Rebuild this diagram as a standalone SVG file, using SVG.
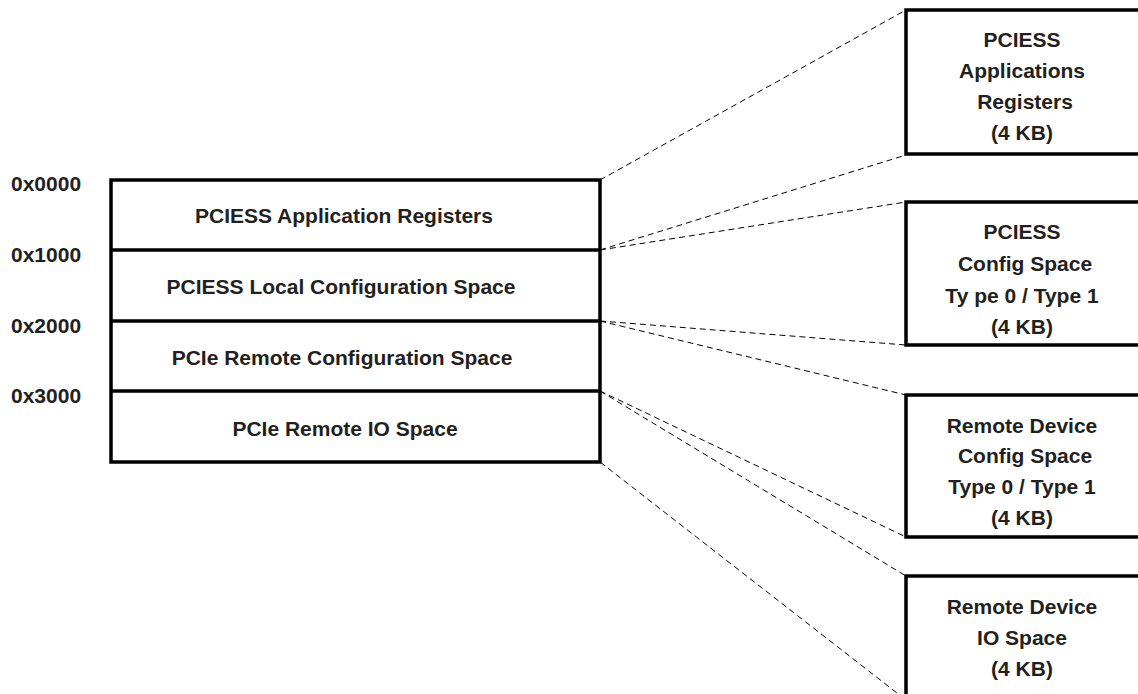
<svg xmlns="http://www.w3.org/2000/svg" width="1138" height="694" viewBox="0 0 1138 694">
<style>
.t{font-family:"Liberation Sans",Arial,sans-serif;font-weight:bold;font-size:21px;fill:#231f20}
.m{text-anchor:middle}
.box{fill:#fff;stroke:#000;stroke-width:3.5}
.div{stroke:#000;stroke-width:3.5}
.dash{stroke:#000;stroke-width:1;stroke-dasharray:6,4;fill:none}
</style>
<rect width="1138" height="694" fill="#fff"/>
<g id="connectors">
<line class="dash" x1="600" y1="180" x2="906" y2="10"/>
<line class="dash" x1="600" y1="250" x2="906" y2="155"/>
<line class="dash" x1="600" y1="250" x2="906" y2="202"/>
<line class="dash" x1="600" y1="321" x2="906" y2="345"/>
<line class="dash" x1="600" y1="321" x2="906" y2="395"/>
<line class="dash" x1="600" y1="391" x2="906" y2="537"/>
<line class="dash" x1="600" y1="391" x2="906" y2="576"/>
<line class="dash" x1="600" y1="462" x2="906" y2="700"/>
</g>
<g id="addresses">
<text class="t" x="11" y="191">0x0000</text>
<text class="t" x="11" y="262">0x1000</text>
<text class="t" x="11" y="333">0x2000</text>
<text class="t" x="11" y="403">0x3000</text>
</g>
<g id="memory-map">
<rect class="box" x="111" y="180" width="489" height="282"/>
<line class="div" x1="111" y1="250" x2="600" y2="250"/>
<line class="div" x1="111" y1="321" x2="600" y2="321"/>
<line class="div" x1="111" y1="391" x2="600" y2="391"/>
<text class="t m" x="344" y="223">PCIESS Application Registers</text>
<text class="t m" x="341" y="294">PCIESS Local Configuration Space</text>
<text class="t m" x="342" y="365">PCIe Remote Configuration Space</text>
<text class="t m" x="345" y="436">PCIe Remote IO Space</text>
</g>
<g id="app-regs">
<rect class="box" x="906" y="10" width="250" height="144"/>
<text class="t m" x="1022" y="47">PCIESS</text>
<text class="t m" x="1022" y="78">Applications</text>
<text class="t m" x="1025" y="109">Registers</text>
<text class="t m" x="1022" y="140">(4 KB)</text>
</g>
<g id="local-config">
<rect class="box" x="906" y="202" width="250" height="143"/>
<text class="t m" x="1022" y="239">PCIESS</text>
<text class="t m" x="1025" y="271">Config Space</text>
<text class="t m" x="1022" y="303">Ty pe 0 / Type 1</text>
<text class="t m" x="1022" y="334">(4 KB)</text>
</g>
<g id="remote-config">
<rect class="box" x="906" y="395" width="250" height="142"/>
<text class="t m" x="1022" y="433">Remote Device</text>
<text class="t m" x="1025" y="463">Config Space</text>
<text class="t m" x="1022" y="494">Type 0 / Type 1</text>
<text class="t m" x="1022" y="525">(4 KB)</text>
</g>
<g id="remote-io">
<rect class="box" x="906" y="576" width="250" height="140"/>
<text class="t m" x="1022" y="614">Remote Device</text>
<text class="t m" x="1022" y="645">IO Space</text>
<text class="t m" x="1022" y="676">(4 KB)</text>
</g>
</svg>
